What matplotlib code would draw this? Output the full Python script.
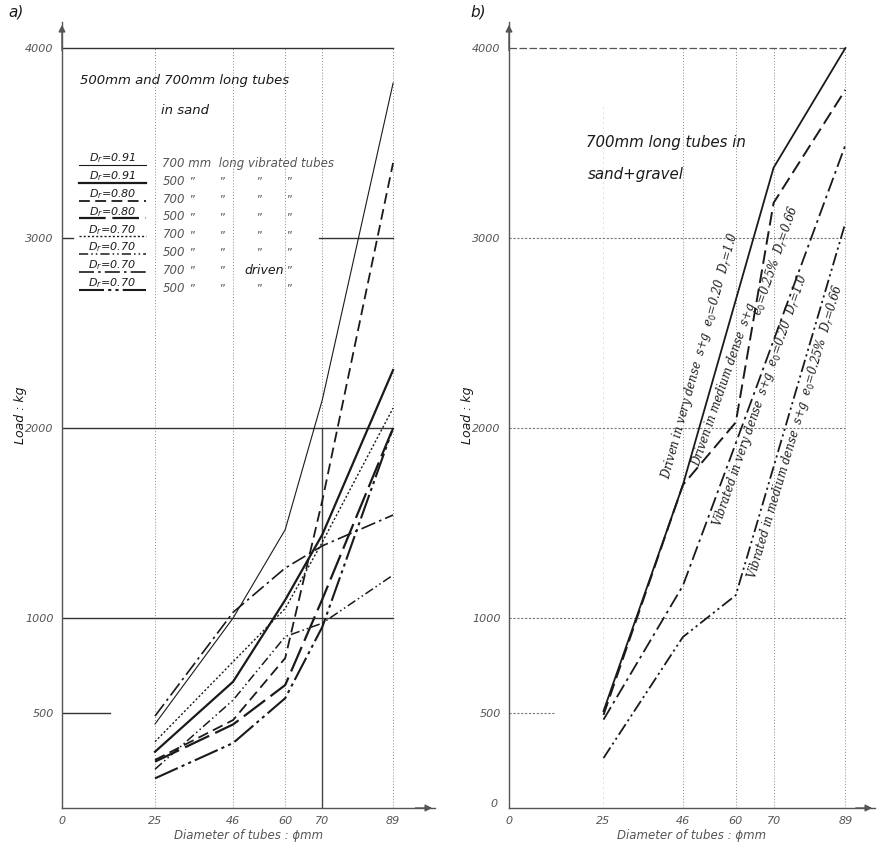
import matplotlib
matplotlib.use("Agg")
import matplotlib.pyplot as plt
from matplotlib import font_manager

# ---------------- data ----------------
diam = [25, 46, 60, 70, 89]
xticks_a = [0, 25, 46, 60, 70, 89]
yticks = [500, 1000, 2000, 3000, 4000]

# panel a: 500mm and 700mm long tubes in sand
a_labels = [r"$D_r$=0.91", r"$D_r$=0.91", r"$D_r$=0.80", r"$D_r$=0.80",
            r"$D_r$=0.70", r"$D_r$=0.70", r"$D_r$=0.70", r"$D_r$=0.70"]
a_desc = ["700 mm  long vibrated tubes", "500", "700", "500", "700", "500", "700", "500"]
a_vib_d91_700 = [442, 1000, 1465, 2150, 3815]
a_vib_d91_500 = [296, 665, 1095, 1440, 2305]
a_vib_d80_700 = [253, 463, 789, 1620, 3395]
a_vib_d80_500 = [244, 440, 647, 1100, 2000]
a_vib_d70_700 = [349, 770, 1050, 1400, 2105]
a_vib_d70_500 = [204, 568, 902, 973, 1226]
a_drv_d70_700 = [484, 1030, 1263, 1380, 1542]
a_drv_d70_500 = [156, 342, 578, 954, 2000]

# panel b: 700mm long tubes in sand + gravel
b_drv_very = ([25, 46, 70, 89], [510, 1700, 3370, 4000])
b_drv_med = ([25, 46, 60, 70, 89], [490, 1700, 2030, 3185, 3780])
b_vib_very = ([25, 46, 60, 89], [465, 1170, 1920, 3490])
b_vib_med = ([25, 46, 60, 89], [263, 900, 1120, 3080])
b_texts = ["Driven in very dense  s+g  e$_0$=0.20  D$_r$=1.0",
           "Driven in medium dense  s+g",
           "e$_0$=0.25%  D$_r$=0.66",
           "Vibrated in very dense  s+g  e$_0$=0.20  D$_r$=1.0",
           "Vibrated in medium dense  s+g  e$_0$=0.25%  D$_r$=0.66"]

# ---------------- styling ----------------
plt.rcParams['font.family'] = ['DejaVu Sans']
names = {f.name for f in font_manager.fontManager.ttflist}
if 'Liberation Sans Narrow' in names:
    narrow = 'Liberation Sans Narrow'
    tsize_a, tsize_b = 12.0, 13.8
else:
    narrow = 'DejaVu Sans'
    tsize_a, tsize_b = 9.5, 10.8
ink = '#1a1a1a'
grey = '#555555'
styles = [
    dict(ls='-', lw=0.8),
    dict(ls='-', lw=1.6),
    dict(ls=(0, (6, 3)), lw=1.3),
    dict(ls=(0, (12, 3)), lw=1.6),
    dict(ls=(0, (1.5, 1.5)), lw=1.0),
    dict(ls=(0, (6, 2, 1, 2, 1, 2)), lw=1.1),
    dict(ls=(0, (9, 2.5, 1.5, 2.5)), lw=1.2),
    dict(ls=(0, (12, 2, 1.5, 2, 1.5, 2)), lw=1.5),
]

W, H = 884, 848
fig = plt.figure(figsize=(W / 100, H / 100), dpi=100)

def make_axes(x0_px, x1_px, px_per_mm):
    y0_px, y1_px = 808, 22
    ax = fig.add_axes([x0_px / W, (H - y0_px) / H, (x1_px - x0_px) / W, (y0_px - y1_px) / H])
    ax.set_xlim(0, (x1_px - x0_px) / px_per_mm)
    ax.set_ylim(0, (y0_px - y1_px) / 0.19)
    for s in ['top', 'right']:
        ax.spines[s].set_visible(False)
    for s in ['left', 'bottom']:
        ax.spines[s].set_color(grey)
        ax.spines[s].set_linewidth(1.0)
    ax.tick_params(length=0, labelsize=8, labelcolor=grey, pad=6)
    ax.set_yticks(yticks)
    ax.set_yticklabels([str(v) for v in yticks], fontstyle='italic')
    ax.set_xticks(xticks_a)
    ax.set_xticklabels([str(v) for v in xticks_a], fontstyle='italic')
    ax.annotate('', xy=(1.0, 0), xytext=(0.94, 0), xycoords='axes fraction',
                arrowprops=dict(arrowstyle='-|>', color=grey, lw=1.0, mutation_scale=10))
    ax.annotate('', xy=(0, 1.0), xytext=(0, 0.96), xycoords='axes fraction',
                arrowprops=dict(arrowstyle='-|>', color=grey, lw=1.0, mutation_scale=10))
    ax.set_xlabel("Diameter of tubes : ϕmm", fontstyle='italic', fontsize=8.5, color=grey, labelpad=2)
    ax.set_ylabel("Load : kg", fontstyle='italic', fontsize=9, color=ink)
    ax.yaxis.set_label_coords(-35 / (x1_px - x0_px), 0.5)
    return ax

# ---------------- panel a ----------------
axa = make_axes(62, 435, 3.72)
for xv in [25, 46, 60, 70, 89]:
    axa.plot([xv, xv], [0, 4000], color='#888888', lw=0.7, ls=(0, (1, 2)))
axa.plot([70, 70], [0, 2000], color='#444444', lw=1.0)
for yv in [1000, 2000, 4000]:
    axa.plot([0, 89], [yv, yv], color='#333333', lw=1.0)
axa.plot([0, 3], [3000, 3000], color='#333333', lw=1.0)
axa.plot([69, 89], [3000, 3000], color='#333333', lw=1.0)
axa.plot([0, 13], [500, 500], color='#333333', lw=1.0)

a_series = [a_vib_d91_700, a_vib_d91_500, a_vib_d80_700, a_vib_d80_500,
            a_vib_d70_700, a_vib_d70_500, a_drv_d70_700, a_drv_d70_500]
for vals, st in zip(a_series, styles):
    axa.plot(diam, vals, color=ink, **st)

axa.text(33, 3830, "500mm and 700mm long tubes", fontstyle='italic', fontsize=tsize_a,
         family=narrow, ha='center', va='center', color=ink)
axa.text(33, 3670, "in sand", fontstyle='italic', fontsize=tsize_a, family=narrow,
         ha='center', va='center', color=ink)

# legend block
row0 = 3415
dy = 94
ditto_x = [35, 43, 53, 61]
for i, (lab, desc, st) in enumerate(zip(a_labels, a_desc, styles)):
    y = row0 - i * dy
    axa.plot([4.5, 22.5], [y - 30, y - 30], color=ink, **st)
    axa.text(13.5, y + 5, lab, fontsize=8, fontstyle='italic', ha='center', va='center', color=ink)
    axa.text(27, y - 22, desc, fontsize=8.5, fontstyle='italic', ha='left', va='center', color=grey)
    if i > 0:
        for j, dx in enumerate(ditto_x):
            if i == 6 and j == 2:
                axa.text(dx - 4, y - 22, "driven", fontsize=9, fontstyle='italic',
                         ha='left', va='center', color=ink)
            else:
                axa.text(dx, y - 22, "\u201d", fontsize=8, ha='center', va='center', color=grey)

fig.text(8 / W, 1 - 12 / H, "a)", fontstyle='italic', fontsize=11, va='center', color=ink)

# ---------------- panel b ----------------
axb = make_axes(509, 875, 3.78)
for xv in [46, 60, 70, 89]:
    axb.plot([xv, xv], [0, 4000], color='#888888', lw=0.7, ls=(0, (1, 2)))
axb.plot([25, 25], [0, 3700], color='#aaaaaa', lw=0.6, ls=(0, (1, 5)))
for yv in [1000, 2000, 3000]:
    axb.plot([0, 89], [yv, yv], color='#777777', lw=0.8, ls=(0, (2, 1.5)))
axb.plot([0, 89], [4000, 4000], color='#555555', lw=0.9, ls=(0, (6, 2)))
axb.plot([0, 12], [500, 500], color='#777777', lw=0.8, ls=(0, (2, 1.5)))
axb.text(-3, 20, "0", fontsize=8, fontstyle='italic', color=grey, ha='right', va='center')

axb.plot(*b_drv_very, color=ink, ls='-', lw=1.3)
axb.plot(*b_drv_med, color=ink, ls=(0, (7, 3)), lw=1.4)
axb.plot(*b_vib_very, color=ink, ls=(0, (8, 2.5, 1.5, 2.5)), lw=1.3)
axb.plot(*b_vib_med, color=ink, ls=(0, (7, 2, 1.2, 2, 1.2, 2)), lw=1.3)

axb.text(20.3, 3500, "700mm long tubes in", fontstyle='italic', fontsize=tsize_b, family=narrow,
         ha='left', va='center', color=ink)
axb.text(20.8, 3335, "sand+gravel", fontstyle='italic', fontsize=tsize_b, family=narrow,
         ha='left', va='center', color=ink)

bt_kw = dict(fontstyle='italic', fontsize=8.3, ha='center', va='center', color=ink, family='serif')
axb.text(50.5, 2384, b_texts[0], rotation=74.5, **bt_kw)
axb.text(56.9, 2230, b_texts[1], rotation=71, **bt_kw)
axb.text(70.6, 2880, b_texts[2], rotation=71, **bt_kw)
axb.text(66.4, 2147, b_texts[3], rotation=71, **bt_kw)
axb.text(75.7, 1979, b_texts[4], rotation=73.5, **bt_kw)

fig.text(470 / W, 1 - 12 / H, "b)", fontstyle='italic', fontsize=11, va='center', color=ink)

fig.savefig("out.png", dpi=100, facecolor='white')
